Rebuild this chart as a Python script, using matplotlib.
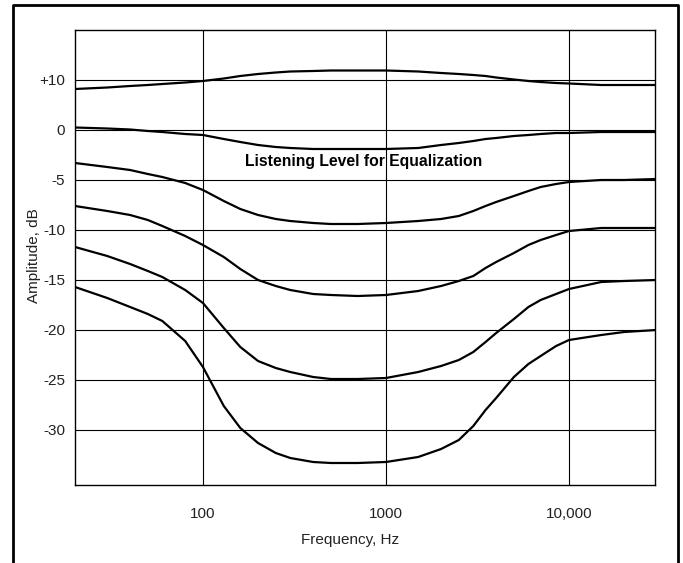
import numpy as np
import matplotlib
matplotlib.use('Agg')
import matplotlib.pyplot as plt

plt.rcParams['font.family'] = ['Liberation Sans', 'DejaVu Sans']

freq = [20, 30, 40, 50, 60, 80, 100, 130, 160, 200, 250, 300, 400, 500, 700,
        1000, 1500, 2000, 2500, 3000, 3500, 4000, 5000, 6000, 7000, 8500,
        10000, 15000, 20000, 30000]

curve_p10 = [8.2, 8.5, 8.8, 9.0, 9.2, 9.5, 9.8, 10.3, 10.8, 11.2, 11.5, 11.7, 11.8,
             11.9, 11.9, 11.9, 11.7, 11.4, 11.2, 11.0, 10.8, 10.5, 10.1, 9.8, 9.6,
             9.4, 9.3, 9.0, 9.0, 9.0]
curve_0 = [0.5, 0.3, 0.1, -0.1, -0.2, -0.4, -0.5, -0.9, -1.2, -1.5, -1.7, -1.8,
           -1.9, -1.9, -1.9, -1.9, -1.8, -1.5, -1.3, -1.1, -0.9, -0.8, -0.6, -0.5,
           -0.4, -0.3, -0.3, -0.2, -0.2, -0.2]
curve_m5 = [-3.3, -3.7, -4.0, -4.4, -4.7, -5.3, -6.0, -7.1, -7.9, -8.5, -8.9, -9.1,
            -9.3, -9.4, -9.4, -9.3, -9.1, -8.9, -8.6, -8.1, -7.6, -7.2, -6.6, -6.1,
            -5.7, -5.4, -5.2, -5.0, -5.0, -4.9]
curve_m10 = [-7.6, -8.1, -8.5, -9.0, -9.6, -10.6, -11.5, -12.7, -13.9, -15.0, -15.6,
             -16.0, -16.4, -16.5, -16.6, -16.5, -16.1, -15.6, -15.1, -14.6, -13.8,
             -13.2, -12.3, -11.5, -11.0, -10.5, -10.1, -9.8, -9.8, -9.8]
curve_m15 = [-11.7, -12.6, -13.4, -14.1, -14.7, -16.0, -17.3, -19.8, -21.7, -23.1,
             -23.8, -24.2, -24.7, -24.9, -24.9, -24.8, -24.2, -23.6, -23.0, -22.2,
             -21.2, -20.3, -18.9, -17.7, -17.0, -16.4, -15.9, -15.2, -15.1, -15.0]
curve_m20 = [-15.7, -16.8, -17.7, -18.4, -19.1, -21.1, -23.7, -27.6, -29.8, -31.3,
             -32.3, -32.8, -33.2, -33.3, -33.3, -33.2, -32.7, -31.9, -31.0, -29.6,
             -28.0, -26.8, -24.7, -23.4, -22.6, -21.6, -21.0, -20.5, -20.2, -20.0]

y_ticks = [10, 0, -5, -10, -15, -20, -25, -30]
y_labels = ['+10', '0', '-5', '-10', '-15', '-20', '-25', '-30']
x_ticks = [100, 1000, 10000]
x_labels = ['100', '1000', '10,000']


# scale above 0 dB is compressed by half on the original chart
def fwd(y):
    y = np.asarray(y, dtype=float)
    return np.where(y > 0, y / 2, y)


def inv(y):
    y = np.asarray(y, dtype=float)
    return np.where(y > 0, y * 2, y)


fig = plt.figure(figsize=(6.83, 5.63), dpi=100)
ax = fig.add_axes([75 / 683, 78 / 563, 580 / 683, 455 / 563])

for c in [curve_p10, curve_0, curve_m5, curve_m10, curve_m15, curve_m20]:
    ax.plot(freq, c, color='black', linewidth=1.6)

ax.set_xscale('log')
ax.set_yscale('function', functions=(fwd, inv))
ax.set_xlim(20, 29500)
ax.set_ylim(-35.5, 20)

ax.set_xticks(x_ticks)
ax.set_xticklabels(x_labels)
ax.xaxis.set_minor_locator(matplotlib.ticker.NullLocator())
ax.set_yticks(y_ticks)
ax.set_yticklabels(y_labels)
ax.yaxis.set_minor_locator(matplotlib.ticker.NullLocator())
ax.tick_params(length=0, labelsize=11, colors='#222222', pad=7)
ax.tick_params(axis='x', pad=16)

ax.grid(True, color='black', linewidth=0.8)
for s in ax.spines.values():
    s.set_linewidth(1.0)

ax.set_xlabel('Frequency, Hz', fontsize=11, color='#222222')
ax.xaxis.set_label_coords(0.474, -0.105)
ax.set_ylabel('Amplitude, dB', fontsize=11, color='#222222')
ax.yaxis.set_label_coords(-0.059, 0.505)

ax.text(759, -3.2, 'Listening Level for Equalization', ha='center', va='center',
        fontsize=11.3, fontweight='bold')

# outer frame around the whole figure (no bottom edge)
fig.add_artist(plt.Line2D([13 / 683, 13 / 683, 678 / 683, 678 / 683],
                          [0, 558 / 563, 558 / 563, 0], color='black', linewidth=2))

fig.savefig('out.png', dpi=100)
